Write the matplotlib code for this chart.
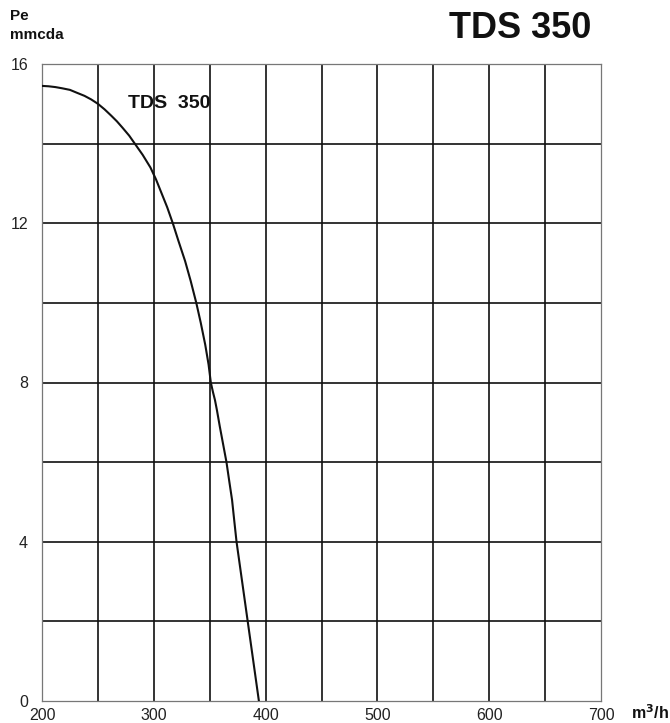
import matplotlib
matplotlib.use("Agg")
import matplotlib.pyplot as plt
import numpy as np

plt.rcParams['font.family'] = ['Liberation Sans', 'DejaVu Sans']

# Data
flow = [200, 206, 212, 218, 225, 231, 238, 244, 250, 256, 262, 267, 272, 278, 283, 290, 297,
        302, 307, 312, 317, 322, 328, 333, 338, 342, 346, 349, 351, 353, 354.7, 356.5,
        359, 362, 365, 367.5, 370, 372, 374, 376.5, 379, 381.5, 384, 386.5, 389, 391.5, 394]
pressure = [15.45, 15.44, 15.42, 15.39, 15.35, 15.28, 15.2, 15.11, 15.0, 14.86, 14.7, 14.56, 14.4,
            14.2, 14.0, 13.72, 13.4, 13.1, 12.75, 12.4, 12.0, 11.56, 11.05, 10.55, 10.0, 9.5,
            8.95, 8.45, 8.0, 7.75, 7.56, 7.3, 6.9, 6.45, 6.0, 5.52, 5.05, 4.52, 4.0, 3.5, 3.0,
            2.5, 2.0, 1.5, 1.0, 0.5, 0.0]

xticks = [200, 300, 400, 500, 600, 700]
yticks = [0, 4, 8, 12, 16]
xgrid = np.arange(250, 700, 50)
ygrid = np.arange(2, 16, 2)

fig = plt.figure(figsize=(6.7, 7.23), dpi=100)
ax = fig.add_axes([42/670, 1-701/723, (601-42)/670, (701-64)/723])
ax.set_xlim(200, 700)
ax.set_ylim(0, 16)

for gx in xgrid:
    ax.axvline(gx, color='#111111', lw=1.2, zorder=1)
for gy in ygrid:
    ax.axhline(gy, color='#111111', lw=1.2, zorder=1)

ax.plot(flow, pressure, color='#111111', lw=1.5, zorder=3, solid_joinstyle='round')

ax.set_xticks(xticks)
ax.set_yticks(yticks)
ax.set_xticklabels([str(v) for v in xticks], fontsize=11.5, color='#222222')
ax.set_yticklabels([str(v) for v in yticks], fontsize=11.5, color='#222222')
ax.tick_params(length=0)
ax.tick_params(axis='x', pad=5)
ax.tick_params(axis='y', pad=10)
for s in ax.spines.values():
    s.set_color('#777777')
    s.set_linewidth(0.9)

ax.text(277, 15.0, 'TDS  350', fontsize=14, fontweight='bold', color='#111111',
        va='center', ha='left', zorder=4)

fig.text(520/670, 1-28/723, 'TDS 350', fontsize=26, fontweight='bold',
         color='#111111', ha='center', va='center')
fig.text(10/670, 1-9/723, 'Pe\nmmcda', fontsize=11, fontweight='bold',
         color='#111111', ha='left', va='top', linespacing=1.45)
fig.text(631/670, 1-713/723, r'm$^{\mathbf{3}}$/h', fontsize=11.5, fontweight='bold',
         color='#111111', ha='left', va='center')

fig.savefig('out.png', dpi=100)
